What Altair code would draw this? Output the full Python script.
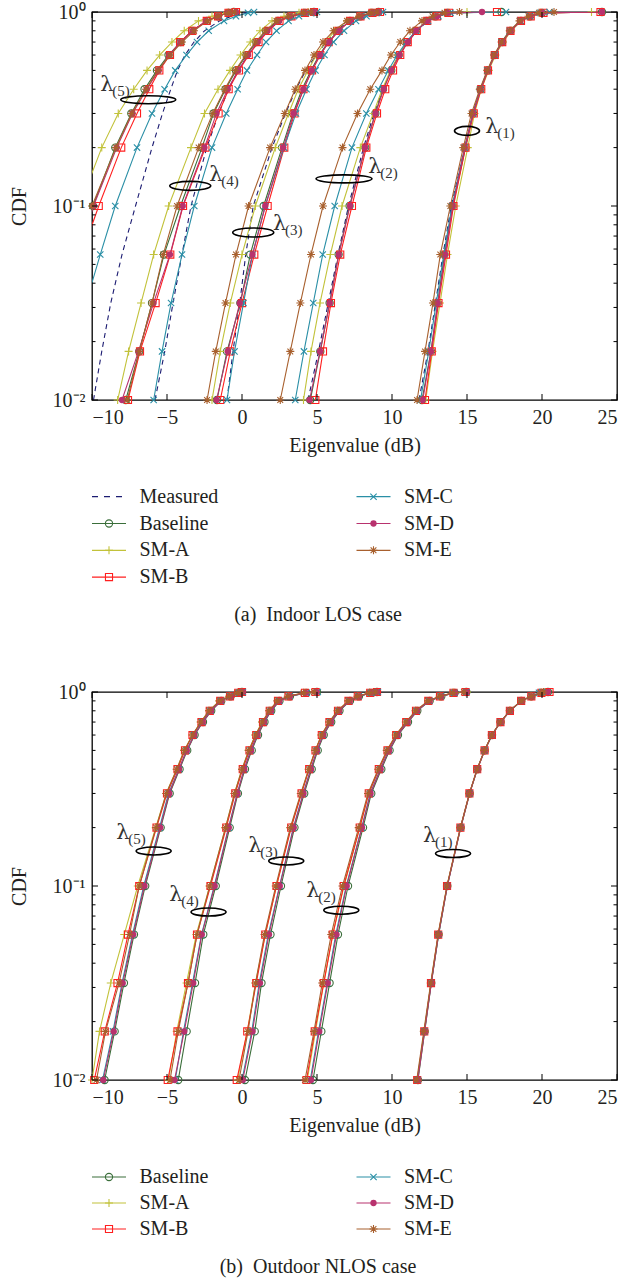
import altair as alt
import pandas as pd

FONT = "Liberation Serif"
LAMBDA_FONT = "DejaVu Serif"
TXT = "#231f20"

# CDF levels at which every curve is sampled (markers sit on these levels)
LEVELS = [0.01, 0.0178, 0.0316, 0.0562, 0.1, 0.2, 0.3, 0.4, 0.5, 0.6, 0.7, 0.8, 0.9, 0.95, 0.99, 1.0]
N = None
X_TICKS = [-10, -5, 0, 5, 10, 15, 20, 25]
Y_MAJOR = [0.01, 0.1, 1.0]
Y_MINOR = [0.02, 0.03, 0.04, 0.05, 0.06, 0.07, 0.08, 0.09, 0.2, 0.3, 0.4, 0.5, 0.6, 0.7, 0.8, 0.9]

SERIES_A = ["Measured", "Baseline", "SM-A", "SM-B", "SM-C", "SM-D", "SM-E"]
SERIES_B = ["Baseline", "SM-A", "SM-B", "SM-C", "SM-D", "SM-E"]

# ---- Panel (a): eigenvalue (dB) at each CDF level, lists for lambda(1)..lambda(5)
A_MEASURED = [
    [11.8, 12.4, 12.9, 13.4, 13.95, 14.85, 15.4, 15.9, 16.4, 16.85, 17.35, 17.9, 18.6, 19.2, 19.9, 20.5],
    [4.4, 5.1, 5.75, 6.4, 7.1, 8.1, 8.8, 9.4, 9.95, 10.5, 11.05, 11.65, 12.4, 13.1, 13.9, 15.0],
    [-1.0, -0.6, -0.15, 0.25, 0.75, 2.0, 2.9, 3.6, 4.25, 4.95, 5.6, 6.3, 7.1, 7.8, 8.6, 9.0],
    [-5.8, -5.15, -4.6, -4.0, -3.4, -2.35, -1.55, -0.9, -0.25, 0.4, 1.05, 1.7, 2.5, 3.3, 4.2, 4.6],
    [-9.9, -9.35, -8.75, -8.0, -7.1, -6.0, -5.3, -4.75, -4.3, -3.8, -3.2, -2.5, -1.5, -0.7, 0.2, 0.5],
]
A_BASELINE = [
    [12.0, 12.6, 13.05, 13.5, 14.05, 14.9, 15.4, 15.9, 16.4, 16.85, 17.35, 17.9, 18.6, 19.2, 20.0, 24.0],
    [4.55, 5.22, 5.84, 6.44, 7.17, 8.22, 8.89, 9.4, 9.95, 10.45, 11.0, 11.6, 12.3, 12.9, 13.7, 17.3],
    [-1.67, -1.0, -0.11, 0.55, 1.44, 2.67, 3.4, 4.0, 4.6, 5.15, 5.75, 6.4, 7.2, 7.9, 8.7, 9.1],
    [-7.75, -6.85, -6.0, -5.2, -4.1, -2.67, -1.9, -1.1, -0.4, 0.3, 0.95, 1.6, 2.4, 3.2, 4.2, 4.8],
    [N, N, N, -10.9, -9.93, -8.45, -7.38, -6.5, -5.67, -4.9, -4.1, -3.33, -2.33, -1.6, -0.9, -0.55],
]
A_SMA = [
    [12.25, 12.7, 13.2, 13.7, 14.25, 15.05, 15.5, 15.95, 16.45, 16.9, 17.4, 17.95, 18.6, 19.2, 19.9, 23.3],
    [4.1, 4.6, 5.2, 5.89, 6.67, 7.89, 8.75, 9.35, 9.9, 10.45, 11.0, 11.6, 12.3, 13.0, 13.8, 15.0],
    [-2.0, -1.45, -0.78, 0.0, 0.89, 2.22, 3.1, 3.75, 4.4, 4.95, 5.55, 6.2, 7.0, 7.8, 8.6, 9.0],
    [-8.29, -7.56, -6.73, -5.89, -4.89, -3.4, -2.5, -1.6, -0.8, -0.1, 0.55, 1.2, 2.0, 2.8, 3.8, 4.4],
    [N, N, N, N, -10.85, -9.35, -8.25, -7.22, -6.33, -5.49, -4.67, -3.85, -2.9, -2.0, -1.0, -0.3],
]
A_SMB = [
    [12.2, 12.65, 13.1, 13.6, 14.1, 14.9, 15.45, 15.95, 16.4, 16.85, 17.35, 17.9, 18.6, 19.25, 20.1, 23.9],
    [4.89, 5.4, 5.93, 6.55, 7.33, 8.29, 9.0, 9.55, 10.07, 10.55, 11.05, 11.65, 12.35, 13.0, 13.8, 17.0],
    [-1.45, -0.78, 0.0, 0.82, 1.71, 2.82, 3.5, 4.1, 4.67, 5.22, 5.78, 6.44, 7.2, 7.9, 8.7, 9.2],
    [-7.6, -6.8, -5.76, -4.78, -3.93, -2.44, -1.56, -0.89, -0.2, 0.45, 1.1, 1.75, 2.5, 3.3, 4.2, 4.8],
    [N, N, N, -10.7, -9.55, -8.05, -7.0, -6.18, -5.51, -4.8, -4.13, -3.31, -2.35, -1.6, -0.9, -0.4],
]
A_SMC = [
    [11.9, 12.45, 12.95, 13.45, 14.0, 14.85, 15.4, 15.9, 16.35, 16.85, 17.3, 17.85, 18.55, 19.2, 19.9, 20.5],
    [3.55, 4.13, 4.75, 5.38, 6.18, 7.33, 8.29, 9.1, 9.75, 10.35, 10.95, 11.6, 12.4, 13.1, 13.9, 17.6],
    [-1.0, -0.5, 0.1, 0.7, 1.55, 2.8, 3.6, 4.3, 4.9, 5.5, 6.1, 6.8, 7.6, 8.3, 9.0, 9.4],
    [-5.89, -5.33, -4.73, -4.0, -3.18, -2.0, -1.05, -0.29, 0.33, 1.0, 1.6, 2.3, 3.1, 3.8, 4.6, 5.0],
    [N, N, -10.4, -9.45, -8.45, -7.0, -6.0, -5.16, -4.45, -3.7, -3.0, -2.22, -1.2, -0.4, 0.4, 0.8],
]
A_SMD = [
    [12.05, 12.6, 13.05, 13.55, 14.05, 14.85, 15.4, 15.9, 16.4, 16.85, 17.35, 17.9, 18.55, 19.2, 20.0, 24.0],
    [4.5, 5.2, 5.85, 6.45, 7.2, 8.2, 8.9, 9.45, 9.95, 10.5, 11.05, 11.6, 12.35, 13.0, 13.7, 16.0],
    [-1.7, -0.95, -0.15, 0.7, 1.55, 2.75, 3.45, 4.1, 4.65, 5.2, 5.8, 6.45, 7.2, 7.9, 8.7, 9.1],
    [-8.0, -6.9, -5.9, -4.8, -3.95, -2.5, -1.7, -0.95, -0.25, 0.4, 1.05, 1.7, 2.45, 3.2, 4.2, 4.8],
    [N, N, N, -10.9, -9.9, -8.35, -7.3, -6.35, -5.55, -4.85, -4.1, -3.3, -2.4, -1.6, -0.9, -0.4],
]
A_SME = [
    [11.67, 12.2, 12.73, 13.22, 13.89, 14.75, 15.3, 15.85, 16.35, 16.8, 17.3, 17.85, 18.5, 19.1, 19.8, 20.8],
    [2.55, 3.22, 3.89, 4.6, 5.4, 6.7, 7.7, 8.55, 9.33, 9.93, 10.55, 11.2, 12.0, 12.7, 13.5, 14.5],
    [-2.33, -1.75, -1.1, -0.4, 0.44, 1.87, 2.85, 3.55, 4.2, 4.8, 5.4, 6.1, 7.0, 7.8, 8.6, 9.0],
    [-7.65, -6.85, -6.0, -5.25, -4.33, -2.89, -1.95, -1.15, -0.45, 0.25, 0.9, 1.55, 2.3, 3.1, 4.1, 4.6],
    [N, N, N, -11.0, -10.0, -8.4, -7.35, -6.4, -5.6, -4.8, -4.0, -3.2, -2.3, -1.6, -0.9, -0.5],
]

# ---- Panel (b)
B_BASELINE = [
    [11.73, 12.18, 12.62, 13.11, 13.69, 14.58, 15.18, 15.69, 16.18, 16.67, 17.24, 17.87, 18.62, 19.29, 19.95, 20.4],
    [4.73, 5.29, 5.84, 6.4, 7.07, 8.07, 8.62, 9.29, 9.84, 10.4, 11.07, 11.69, 12.51, 13.29, 14.18, 14.96],
    [0.2, 0.85, 1.3, 1.9, 2.6, 3.5, 4.15, 4.65, 5.05, 5.45, 5.95, 6.5, 7.2, 7.8, 8.6, 9.0],
    [-4.25, -3.69, -3.13, -2.58, -1.75, -0.82, -0.27, 0.2, 0.65, 1.07, 1.5, 1.95, 2.5, 3.2, 4.3, 5.0],
    [-9.16, -8.49, -7.87, -7.2, -6.45, -5.42, -4.82, -4.16, -3.65, -3.16, -2.6, -2.05, -1.38, -0.75, -0.2, 0.0],
]
B_SMA = [
    [11.7, 12.15, 12.6, 13.09, 13.67, 14.57, 15.17, 15.68, 16.17, 16.66, 17.23, 17.86, 18.61, 19.28, 19.95, 20.2],
    [4.35, 4.9, 5.45, 6.05, 6.8, 7.85, 8.45, 9.12, 9.7, 10.28, 10.95, 11.6, 12.42, 13.2, 14.1, 15.0],
    [-0.3, 0.35, 0.9, 1.55, 2.3, 3.25, 3.95, 4.45, 4.9, 5.3, 5.82, 6.38, 7.1, 7.72, 8.5, 8.95],
    [-4.9, -4.35, -3.7, -3.05, -2.15, -1.1, -0.5, 0.0, 0.45, 0.9, 1.35, 1.85, 2.4, 3.1, 4.2, 4.9],
    [-10.0, -9.5, -8.75, -7.85, -6.95, -5.75, -5.05, -4.35, -3.85, -3.3, -2.75, -2.2, -1.5, -0.85, -0.25, 0.0],
]
B_SMB = [
    [11.68, 12.15, 12.6, 13.08, 13.67, 14.56, 15.16, 15.68, 16.17, 16.66, 17.23, 17.86, 18.61, 19.29, 19.96, 20.5],
    [4.3, 4.85, 5.45, 6.05, 6.78, 7.85, 8.45, 9.12, 9.7, 10.28, 10.95, 11.6, 12.42, 13.2, 14.1, 14.9],
    [-0.35, 0.35, 0.95, 1.55, 2.3, 3.28, 3.97, 4.48, 4.9, 5.32, 5.83, 6.4, 7.1, 7.72, 8.55, 9.0],
    [-4.95, -4.3, -3.6, -3.0, -2.1, -1.05, -0.45, 0.05, 0.5, 0.95, 1.4, 1.85, 2.4, 3.1, 4.2, 4.9],
    [-9.85, -9.15, -8.3, -7.6, -6.85, -5.7, -5.0, -4.3, -3.8, -3.3, -2.7, -2.15, -1.45, -0.8, -0.25, 0.0],
]
B_SMC = [
    [11.7, 12.16, 12.61, 13.1, 13.68, 14.57, 15.17, 15.68, 16.17, 16.66, 17.23, 17.86, 18.61, 19.28, 19.8, 20.0],
    [4.55, 5.1, 5.68, 6.25, 6.95, 7.98, 8.55, 9.22, 9.78, 10.35, 11.02, 11.65, 12.48, 13.25, 14.15, 14.95],
    [0.0, 0.65, 1.15, 1.75, 2.5, 3.42, 4.08, 4.58, 5.0, 5.4, 5.9, 6.45, 7.15, 7.78, 8.6, 9.05],
    [-4.45, -3.9, -3.3, -2.7, -1.85, -0.9, -0.32, 0.15, 0.58, 1.02, 1.46, 1.92, 2.48, 3.18, 4.3, 5.05],
    [-9.3, -8.6, -8.0, -7.3, -6.55, -5.5, -4.9, -4.2, -3.7, -3.2, -2.65, -2.1, -1.4, -0.8, -0.2, 0.05],
]
B_SMD = [
    [11.72, 12.17, 12.62, 13.1, 13.69, 14.58, 15.18, 15.69, 16.18, 16.67, 17.24, 17.87, 18.62, 19.29, 19.95, 20.4],
    [4.6, 5.15, 5.72, 6.3, 6.98, 8.0, 8.57, 9.24, 9.8, 10.37, 11.04, 11.67, 12.49, 13.27, 14.17, 14.95],
    [0.05, 0.7, 1.2, 1.8, 2.52, 3.45, 4.1, 4.6, 5.0, 5.42, 5.92, 6.47, 7.17, 7.78, 8.6, 9.0],
    [-4.5, -3.85, -3.25, -2.68, -1.82, -0.88, -0.3, 0.15, 0.6, 1.03, 1.47, 1.92, 2.48, 3.18, 4.25, 4.95],
    [-9.25, -8.55, -7.95, -7.25, -6.5, -5.45, -4.85, -4.2, -3.68, -3.18, -2.62, -2.07, -1.4, -0.77, -0.2, 0.05],
]
B_SME = [
    [11.65, 12.12, 12.58, 13.07, 13.66, 14.56, 15.16, 15.67, 16.16, 16.65, 17.22, 17.85, 18.6, 19.27, 19.93, 20.1],
    [4.2, 4.8, 5.35, 5.95, 6.7, 7.78, 8.4, 9.08, 9.65, 10.25, 10.92, 11.57, 12.4, 13.18, 14.05, 14.8],
    [-0.2, 0.4, 0.9, 1.5, 2.25, 3.22, 3.92, 4.45, 4.88, 5.3, 5.8, 6.37, 7.08, 7.7, 8.5, 8.9],
    [-4.8, -4.25, -3.6, -3.0, -2.15, -1.1, -0.5, 0.0, 0.45, 0.9, 1.35, 1.8, 2.35, 3.05, 4.1, 4.8],
    [-9.7, -9.1, -8.2, -7.5, -6.85, -5.73, -5.05, -4.35, -3.85, -3.3, -2.75, -2.2, -1.5, -0.85, -0.3, -0.05],
]

PANEL_A = {"Measured": A_MEASURED, "Baseline": A_BASELINE, "SM-A": A_SMA, "SM-B": A_SMB,
           "SM-C": A_SMC, "SM-D": A_SMD, "SM-E": A_SME}
PANEL_B = {"Baseline": B_BASELINE, "SM-A": B_SMA, "SM-B": B_SMB,
           "SM-C": B_SMC, "SM-D": B_SMD, "SM-E": B_SME}

# annotation anchors: (eigen index, ellipse dB, ellipse CDF, label dB, label CDF)
ANNOT_A = [(1, 15.0, 0.244, 16.22, 0.256), (2, 6.8, 0.138, 8.42, 0.159), (3, 0.75, 0.073, 2.07, 0.081),
           (4, -3.45, 0.127, -2.18, 0.145), (5, -6.25, 0.353, -9.45, 0.42)]
ANNOT_B = [(1, 14.07, 0.147, 12.07, 0.182), (2, 6.62, 0.075, 4.29, 0.094), (3, 2.95, 0.1346, 0.42, 0.160),
           (4, -2.23, 0.0734, -4.85, 0.0896), (5, -5.89, 0.1515, -8.38, 0.187)]

# ---------------- styles ----------------
COLORS = {"Measured": "#1c1c72", "Baseline": "#3a6e3a", "SM-A": "#c2c23a", "SM-B": "#ff1f1f",
          "SM-C": "#2a8fa6", "SM-D": "#b8326e", "SM-E": "#a8602e"}
DASHES = {"Measured": [5, 4]}
PLUS = "M-1,0L1,0M0,-1L0,1"
XMARK = "M-1,-1L1,1M-1,1L1,-1"
STAR = "M-1,0L1,0M0,-1L0,1M-0.72,-0.72L0.72,0.72M-0.72,0.72L0.72,-0.72"
MARKERS = {"Baseline": ("circle", 52, False), "SM-A": (PLUS, 64, False), "SM-B": ("square", 50, False),
           "SM-C": (XMARK, 40, False), "SM-D": ("circle", 40, True), "SM-E": (STAR, 64, False)}
ELL_A = [(25, 9), (56, 8), (41, 9), (41, 9), (55, 8)]
ELL_B = [(35, 8)] * 5

W, H = 525, 388
LEG_A_H, LEG_B_H = 291.7, 198


def long_frame(panel):
    rows = []
    for s, arrs in panel.items():
        for k, arr in enumerate(arrs):
            for j, (p, x) in enumerate(zip(LEVELS, arr)):
                if x is None:
                    continue
                rows.append({"series": s, "eig": k + 1, "idx": j, "cdf": p, "db": x})
    return pd.DataFrame(rows)


xs = alt.Scale(domain=[-10, 25], nice=False, zero=False)
ys = alt.Scale(type="log", domain=[0.01, 1], nice=False)
xaxis = alt.Axis(values=X_TICKS, ticks=False, tickSize=0, domain=False, grid=False,
                 labelExpr="datum.value < 0 ? '\u2212' + (-datum.value) : '' + datum.value",
                 labelFont=FONT, labelFontSize=20, labelColor=TXT, labelPadding=7, title="Eigenvalue (dB)",
                 titleFont=FONT, titleFontSize=20, titleFontWeight="normal", titleColor=TXT, titlePadding=8)
yaxis = alt.Axis(values=Y_MAJOR, ticks=False, tickSize=0, domain=False, grid=False,
                 labelExpr="datum.value >= 0.9 ? '10\u2070' : datum.value >= 0.09 ? '10\u207b\u00b9' : '10\u207b\u00b2'",
                 labelFont=FONT, labelFontSize=20, labelColor=TXT, labelPadding=7, title="CDF",
                 titleFont=FONT, titleFontSize=20, titleFontWeight="normal", titleColor=TXT, titlePadding=23)
X = alt.X("db:Q", scale=xs, axis=xaxis)
Y = alt.Y("cdf:Q", scale=ys, axis=yaxis)


def make_panel(panel, annots, ells):
    df = long_frame(panel)
    base = alt.Chart(df)
    layers = []
    for s in panel:
        kw = dict(color=COLORS[s], strokeWidth=1.1, clip=True)
        if s in DASHES:
            kw["strokeDash"] = DASHES[s]
        layers.append(base.transform_filter(alt.datum.series == s).mark_line(**kw)
                      .encode(x=X, y=Y, detail="eig:N", order="idx:Q"))
        if s in MARKERS:
            shp, sz, filled = MARKERS[s]
            layers.append(base.transform_filter(alt.datum.series == s)
                          .transform_filter(alt.datum.db >= -10.05)
                          .mark_point(shape=shp, size=sz, filled=filled, color=COLORS[s],
                                      strokeWidth=1.1, opacity=1)
                          .encode(x=X, y=Y))
    # inward ticks
    ymaj = alt.Chart(pd.DataFrame({"cdf": Y_MAJOR}))
    ymin = alt.Chart(pd.DataFrame({"cdf": Y_MINOR}))
    xmaj = alt.Chart(pd.DataFrame({"db": X_TICKS}))
    layers += [
        ymaj.mark_rule(color="black", strokeWidth=1).encode(y=Y, x=alt.value(0), x2=alt.value(6)),
        ymaj.mark_rule(color="black", strokeWidth=1).encode(y=Y, x=alt.value(W), x2=alt.value(W - 6)),
        ymin.mark_rule(color="black", strokeWidth=1).encode(y=Y, x=alt.value(0), x2=alt.value(3.5)),
        ymin.mark_rule(color="black", strokeWidth=1).encode(y=Y, x=alt.value(W), x2=alt.value(W - 3.5)),
        xmaj.mark_rule(color="black", strokeWidth=1).encode(x=X, y=alt.value(H), y2=alt.value(H - 6)),
        xmaj.mark_rule(color="black", strokeWidth=1).encode(x=X, y=alt.value(0), y2=alt.value(6)),
    ]
    # ellipses and lambda labels
    for (k, ex, ey, lx, ly), (w, h) in zip(annots, ells):
        r = h / w
        path = f"M-1,0A1,{r:.3f} 0 1,0 1,0A1,{r:.3f} 0 1,0 -1,0Z"
        layers.append(alt.Chart(pd.DataFrame({"db": [ex], "cdf": [ey]}))
                      .mark_point(shape=path, size=w * w, filled=False, color="black",
                                  strokeWidth=1.6, opacity=1)
                      .encode(x=X, y=Y))
    lab = pd.DataFrame({"db": [a[3] for a in annots], "cdf": [a[4] for a in annots],
                        "sub": [f"({a[0]})" for a in annots]})
    lc = alt.Chart(lab)
    layers.append(lc.mark_text(text="\u03bb", align="left", baseline="middle", fontSize=21,
                               color="#333333", font=LAMBDA_FONT).encode(x=X, y=Y))
    layers.append(lc.mark_text(align="left", baseline="middle", fontSize=15, dx=12, dy=6,
                               color="#333333", font=FONT).encode(x=X, y=Y, text="sub:N"))
    return alt.layer(*layers).properties(
        width=W, height=H, view=alt.ViewBackground(stroke="black", strokeWidth=1.3))


LEG_COL_X = [0, 264.5]
LINE_LEN = 34
TEXT_DX = 47.5
CAP_X = 226


def make_legend(entries, ncol1, first_y, step, caption, cap_y, height):
    lxs = alt.Scale(domain=[0, W], nice=False, zero=False)
    lys = alt.Scale(domain=[0, height], nice=False, zero=False, reverse=True)
    layers = []
    for i, s in enumerate(entries):
        col = 0 if i < ncol1 else 1
        row = i if i < ncol1 else i - ncol1
        x0 = LEG_COL_X[col]
        d = pd.DataFrame({"x0": [x0], "x1": [x0 + LINE_LEN], "xm": [x0 + LINE_LEN / 2],
                          "xt": [x0 + TEXT_DX], "y": [first_y + row * step], "label": [s]})
        c = alt.Chart(d)
        ly = alt.Y("y:Q", scale=lys, axis=None)
        kw = dict(color=COLORS[s], strokeWidth=1.2)
        if s in DASHES:
            kw["strokeDash"] = [6, 6]
        layers.append(c.mark_rule(**kw).encode(x=alt.X("x0:Q", scale=lxs, axis=None), x2="x1:Q", y=ly))
        if s in MARKERS:
            shp, sz, filled = MARKERS[s]
            layers.append(c.mark_point(shape=shp, size=sz, filled=filled, color=COLORS[s],
                                       strokeWidth=1.1, opacity=1)
                          .encode(x=alt.X("xm:Q", scale=lxs, axis=None), y=ly))
        layers.append(c.mark_text(align="left", baseline="middle", fontSize=20, color=TXT, font=FONT)
                      .encode(x=alt.X("xt:Q", scale=lxs, axis=None), y=ly, text="label:N"))
    cap = pd.DataFrame({"x": [CAP_X], "y": [cap_y], "t": [caption]})
    layers.append(alt.Chart(cap).mark_text(align="center", baseline="middle", fontSize=20,
                                           color=TXT, font=FONT)
                  .encode(x=alt.X("x:Q", scale=lxs, axis=None),
                          y=alt.Y("y:Q", scale=lys, axis=None), text="t:N"))
    return alt.layer(*layers).properties(
        width=W, height=height, view=alt.ViewBackground(stroke="transparent", strokeWidth=0))


panel_a = make_panel(PANEL_A, ANNOT_A, ELL_A)
panel_b = make_panel(PANEL_B, ANNOT_B, ELL_B)
legend_a = make_legend(SERIES_A, 4, 96.7, 26.8, "(a)\u2002Indoor LOS case", 215, LEG_A_H)
legend_b = make_legend(SERIES_B, 3, 97, 26.0, "(b)\u2002Outdoor NLOS case", 187, LEG_B_H)

chart = alt.vconcat(panel_a, legend_a, panel_b, legend_b, spacing=0, bounds="flush").properties(
    padding={"left": 8, "top": 1, "right": 5, "bottom": 0}
).configure_view(stroke="transparent").configure(font=FONT, background="white")

chart.save("out.html", embed_options={"renderer": "svg", "actions": False})
